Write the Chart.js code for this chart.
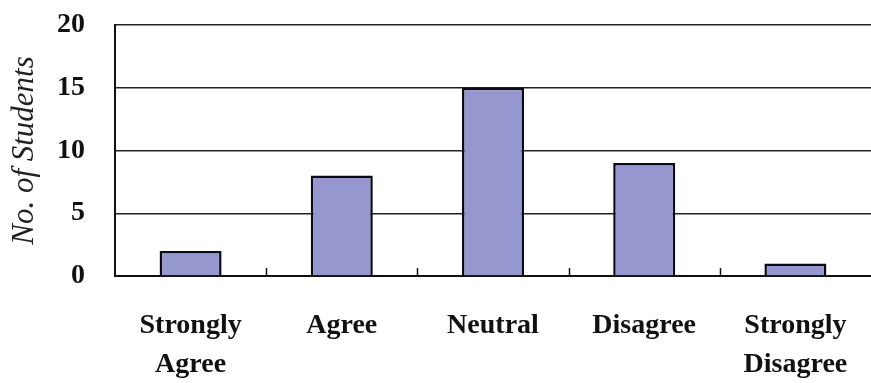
<!DOCTYPE html>
<html>
<head>
<meta charset="utf-8">
<script src="https://cdn.jsdelivr.net/npm/chart.js@4"></script>
<style>
  html, body { margin: 0; padding: 0; background: #fff; }
  #wrap { width: 871px; height: 383px; }
</style>
</head>
<body>
<div id="wrap"><canvas id="chart-area"></canvas></div>
<script>
var categories = [["Strongly", "Agree"], "Agree", "Neutral", "Disagree", ["Strongly", "Disagree"]];
var students   = [2, 8, 15, 9, 1];
var yTicks     = [0, 5, 10, 15, 20];
var yTitle     = "No. of Students";

// short upward ticks between the categories, on the x axis line
var catTicks = {
    id: 'catTicks',
    afterDraw: function (chart) {
        var x = chart.scales.x;
        var ctx = chart.ctx;
        var step = (x.right - x.left) / categories.length;
        ctx.save();
        ctx.strokeStyle = '#111';
        ctx.lineWidth = 1.5;
        for (var i = 1; i < categories.length; ++i) {
            var px = Math.round(x.getPixelForValue(i) - step / 2) + 0.5;
            ctx.beginPath();
            ctx.moveTo(px, x.top);
            ctx.lineTo(px, x.top - 8);
            ctx.stroke();
        }
        ctx.restore();
    }
};

var config = {
    type: 'bar',
    data: {
        labels: categories,
        datasets: [{
            data: students,
            backgroundColor: '#9797cf',
            borderColor: '#0a0a14',
            borderWidth: 2.5,
            categoryPercentage: 1,
            barPercentage: 0.41
        }]
    },
    options: {
        responsive: true,
        maintainAspectRatio: false,
        animation: false,
        layout: { padding: { top: 25, right: 0, left: 0, bottom: 0 } },
        plugins: {
            legend: { display: false },
            tooltip: { enabled: false }
        },
        scales: {
            x: {
                grid: { display: false, drawTicks: false },
                border: { color: '#111', width: 2 },
                ticks: {
                    color: '#111',
                    padding: 30,
                    maxRotation: 0,
                    autoSkip: false,
                    font: { family: 'Liberation Serif', weight: 'bold', size: 28, lineHeight: 1.4 }
                },
                afterFit: function (scale) {
                    scale.height = 107;
                    scale.paddingLeft = 0;
                    scale.paddingRight = 0;
                }
            },
            y: {
                min: 0,
                max: 20,
                afterBuildTicks: function (scale) {
                    scale.ticks = yTicks.map(function (v) { return { value: v }; });
                },
                grid: { color: '#222', lineWidth: 1.5, drawTicks: false },
                border: { color: '#111', width: 2 },
                ticks: {
                    color: '#111',
                    padding: 30,
                    font: { family: 'Liberation Serif', weight: 'bold', size: 28 }
                },
                title: {
                    display: true,
                    text: yTitle,
                    color: '#222',
                    padding: { top: 6, bottom: 0 },
                    font: { family: 'Liberation Serif', style: 'italic', size: 31 }
                },
                afterFit: function (scale) {
                    scale.width = 115;
                    scale.paddingTop = 0;
                    scale.paddingBottom = 0;
                }
            }
        }
    },
    plugins: [catTicks]
};

var ctx = document.getElementById('chart-area').getContext('2d');
window.myBar = new Chart(ctx, config);
</script>
</body>
</html>
